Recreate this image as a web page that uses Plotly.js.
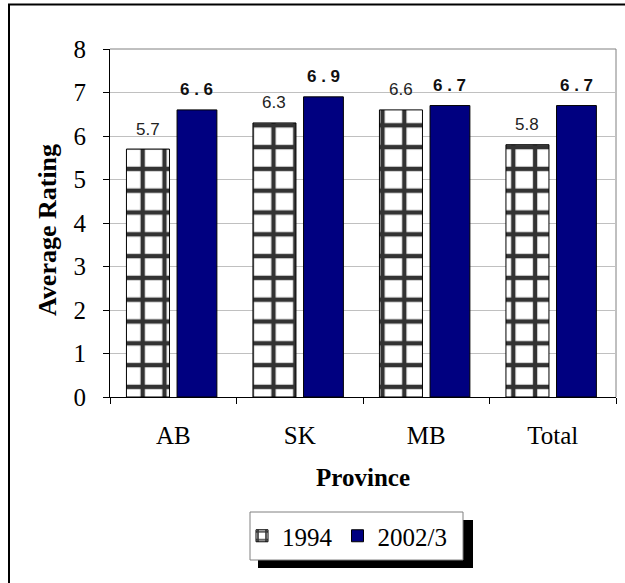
<!DOCTYPE html>
<html>
<head>
<meta charset="utf-8">
<script src="https://cdn.plot.ly/plotly-3.0.1.min.js"></script>
<style>
  html, body { margin: 0; padding: 0; background: #fff; }
  #chart { width: 625px; height: 583px; }
</style>
</head>
<body>
<div id="chart"></div>
<script>
// Average rating by province, two survey waves
const provinces = ['AB', 'SK', 'MB', 'Total'];
const rating1994 = [5.7, 6.3, 6.6, 5.8];
const rating2002 = [6.6, 6.9, 6.7, 6.7];
const seriesNames = ['1994', '2002/3'];

// figure geometry (pixels)
const W = 625, H = 583;
const M = { l: 110, r: 9, t: 49, b: 186 };
const plotW = W - M.l - M.r, plotH = H - M.t - M.b;
const px2x = p => (p - M.l) / plotW;
const py2y = p => (H - M.b - p) / plotH;

// bar placement inside each category slot
const off1 = -0.37, w1 = 0.34;
const off2 = 0.03, w2 = 0.315;

const serif = 'Liberation Serif, Times New Roman, serif';
const sans = 'Liberation Sans, Arial, sans-serif';

const traces = [
  {
    type: 'bar', name: seriesNames[0], x: provinces, y: rating1994,
    offset: off1, width: w1,
    marker: {
      color: '#ffffff',
      line: { color: '#000000', width: 1 },
      pattern: { shape: '+', fgcolor: '#333333', bgcolor: '#ffffff', size: 21.8, solidity: 0.36 }
    },
    hoverinfo: 'x+y'
  },
  {
    type: 'bar', name: seriesNames[1], x: provinces, y: rating2002,
    offset: off2, width: w2,
    marker: { color: '#000080', line: { color: '#000000', width: 1 } },
    hoverinfo: 'x+y'
  }
];

// value labels above each bar
const spaced = v => v.toFixed(1).split('').join(' ');
const annotations = [];
provinces.forEach((p, i) => {
  annotations.push({
    xref: 'x', yref: 'y', x: i + off1 + w1 / 2, y: rating1994[i],
    text: rating1994[i].toFixed(1), showarrow: false,
    yanchor: 'middle', yshift: 20,
    font: { family: sans, size: 17, color: '#222222' }
  });
  annotations.push({
    xref: 'x', yref: 'y', x: i + off2 + w2 / 2, y: rating2002[i],
    text: '<b>' + spaced(rating2002[i]) + '</b>', showarrow: false,
    yanchor: 'middle', yshift: 20,
    font: { family: sans, size: 17, color: '#111111' }
  });
});

// vertical axis title
annotations.push({
  xref: 'paper', yref: 'paper', x: px2x(47), y: py2y(230),
  text: '<b>Average Rating</b>', textangle: -90, showarrow: false,
  xanchor: 'center', yanchor: 'middle',
  font: { family: serif, size: 26, color: '#000000' }
});

const shapes = [
  // outer chart frame (left and top edges visible)
  { type: 'path', xref: 'paper', yref: 'paper', layer: 'above',
    path: `M${px2x(9)},${py2y(H + 20)} L${px2x(9)},${py2y(4.5)} L${px2x(W + 20)},${py2y(4.5)}`,
    line: { color: '#000000', width: 2 } },
  // grey plot-area border on top and right
  { type: 'path', xref: 'paper', yref: 'paper', layer: 'below',
    path: 'M0,1 L1,1 L1,0', line: { color: '#808080', width: 1 } },
  // legend drop shadow
  { type: 'rect', xref: 'paper', yref: 'paper', layer: 'above',
    x0: px2x(258), x1: px2x(473), y0: py2y(568), y1: py2y(520),
    fillcolor: '#000000', line: { width: 0 } },
  // legend box
  { type: 'rect', xref: 'paper', yref: 'paper', layer: 'above',
    x0: px2x(250), x1: px2x(463), y0: py2y(560), y1: py2y(512),
    fillcolor: '#ffffff', line: { color: '#808080', width: 1 } }
];

const layout = {
  width: W, height: H,
  margin: M,
  paper_bgcolor: '#ffffff', plot_bgcolor: '#ffffff',
  barmode: 'group',
  showlegend: true,
  legend: {
    orientation: 'h', x: px2x(242), xanchor: 'left', y: py2y(536), yanchor: 'middle',
    bgcolor: 'rgba(0,0,0,0)', borderwidth: 0,
    font: { family: serif, size: 25, color: '#000000' }
  },
  xaxis: {
    type: 'category', range: [-0.5, 3.5],
    showline: true, linecolor: '#000000', linewidth: 1,
    ticks: 'outside', tickson: 'boundaries', ticklen: 6, tickcolor: '#000000',
    ticklabelstandoff: 16,
    tickfont: { family: serif, size: 25, color: '#000000' },
    showgrid: false, zeroline: false,
    title: { text: '<b>Province</b>', font: { family: serif, size: 25, color: '#000000' }, standoff: 20 }
  },
  yaxis: {
    range: [0, 8], dtick: 1, tick0: 0,
    showline: true, linecolor: '#000000', linewidth: 1,
    ticks: 'outside', ticklen: 6, tickcolor: '#000000',
    ticklabelstandoff: 12,
    tickfont: { family: serif, size: 25, color: '#000000' },
    showgrid: true, gridcolor: '#c0c0c0', gridwidth: 1, zeroline: false
  },
  annotations: annotations,
  shapes: shapes,
  font: { family: serif }
};

Plotly.newPlot('chart', traces, layout, { displayModeBar: false, staticPlot: true });
</script>
</body>
</html>
